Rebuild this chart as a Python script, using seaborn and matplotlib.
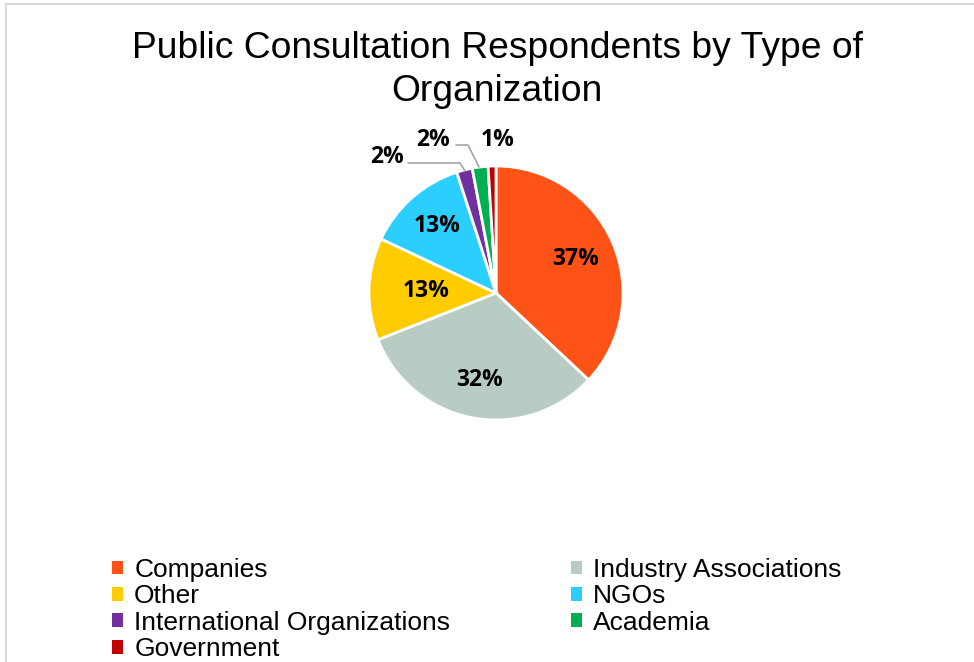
import matplotlib
matplotlib.use("Agg")
import matplotlib.pyplot as plt
import seaborn as sns
import numpy as np
from matplotlib.patches import Patch, Rectangle

sns.set_theme(style="white")
plt.rcParams['font.family'] = ['Liberation Sans', 'DejaVu Sans']
plt.rcParams['text.color'] = 'black'

categories = ["Companies", "Industry Associations", "Other", "NGOs",
              "International Organizations", "Academia", "Government"]
values = [37, 32, 13, 13, 2, 2, 1]
labels = ["37%", "32%", "13%", "13%", "2%", "2%", "1%"]
colors = ["#FF5216", "#B8CCC4", "#FFCC00", "#2ACEFF", "#7030A0", "#00B050", "#C00000"]

W, H = 974, 662
fig = plt.figure(figsize=(W / 100, H / 100), dpi=100)
fig.patch.set_facecolor("white")

# border
fig.patches.append(Rectangle((6 / W, -0.01), 1.02, 1 - 4 / H + 0.01, transform=fig.transFigure,
                             fill=False, edgecolor="#D9D9D9", linewidth=1.5, figure=fig))

cx, cy, r = 496, 293, 127
ax = fig.add_axes([(cx - r) / W, (H - cy - r) / H, 2 * r / W, 2 * r / H])
wedges, _ = ax.pie(values, colors=colors, startangle=90, counterclock=False,
                   radius=1.0, wedgeprops=dict(edgecolor="white", linewidth=2))
ax.set_xlim(-1, 1)
ax.set_ylim(-1, 1)
ax.set_aspect("equal")
ax.axis("off")

lab_font = dict(family=["Open Sans", "DejaVu Sans"], fontsize=16.5, fontweight="bold", color="black")

# inside labels
inside_r = [0.68, 0.70, 0.55, 0.70]
for i in range(4):
    w = wedges[i]
    ang = np.deg2rad((w.theta1 + w.theta2) / 2)
    ax.text(inside_r[i] * np.cos(ang), inside_r[i] * np.sin(ang), labels[i],
            ha="center", va="center", **lab_font)

# outside labels with leader lines
def px(x, y):
    return ((x - cx) / r, (cy - y) / r)

out_specs = [
    ((387, 157), [(408, 163), (460, 163), (465, 171)]),
    ((433, 140), [(456, 145), (468, 145), (479, 167)]),
    ((498, 140), None),
]
for k, (lp, pts) in enumerate(out_specs):
    i = 4 + k
    lx, ly = px(*lp)
    ax.text(lx, ly, labels[i], ha="center", va="center", clip_on=False, **lab_font)
    if pts:
        xs = [px(*p)[0] for p in pts]
        ys = [px(*p)[1] for p in pts]
        ax.plot(xs, ys, color="#A6A6A6", linewidth=1.2, clip_on=False)

fig.text(497 / W, 1 - 70 / H, "Public Consultation Respondents by Type of\nOrganization",
         ha="center", va="center", fontsize=26.8, linespacing=1.3, color="black")

order1 = [0, 2, 4, 6]
order2 = [1, 3, 5]
for order, xpos in ((order1, 112), (order2, 571)):
    handles = [Patch(facecolor=colors[i], edgecolor="none") for i in order]
    leg = fig.legend(handles, [categories[i] for i in order], loc="upper left",
                     bbox_to_anchor=(xpos / W, 1 - 558 / H), frameon=False,
                     fontsize=19, handlelength=0.42, handleheight=0.42, handletextpad=0.42,
                     labelspacing=0.09, borderpad=0, borderaxespad=0)
    for t in leg.get_texts():
        t.set_color("black")

fig.savefig("out.png", dpi=100, facecolor="white")
